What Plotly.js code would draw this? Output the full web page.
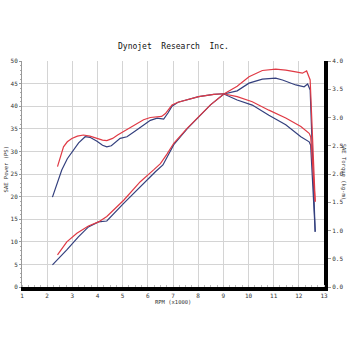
<!DOCTYPE html>
<html>
<head>
<meta charset="utf-8">
<script src="https://cdn.plot.ly/plotly-3.0.1.min.js"></script>
<style>html,body{margin:0;padding:0;background:#fff;}#chart{width:350px;height:350px;}</style>
</head>
<body>
<div id="chart"></div>
<script>
// RPM (x1000) and values
const redTorqueRpm = [2.41,2.55,2.65,2.8,2.98,3.2,3.44,3.7,3.98,4.2,4.37,4.6,4.8,5.04,5.4,5.83,6.1,6.37,6.55,6.7,6.96,7.2,7.43,8.02,8.62,9.0,9.55,10.15,10.81,11.48,12.08,12.27,12.41,12.47,12.65];
const redTorque    = [2.13,2.35,2.48,2.57,2.63,2.67,2.69,2.67,2.63,2.60,2.59,2.63,2.69,2.75,2.84,2.96,3.00,3.01,3.02,3.07,3.22,3.27,3.30,3.37,3.41,3.42,3.37,3.28,3.13,2.99,2.84,2.78,2.72,2.66,1.51];

const blueTorqueRpm = [2.21,2.4,2.58,2.8,3.04,3.25,3.51,3.7,3.98,4.2,4.37,4.55,4.9,5.17,5.5,5.83,6.1,6.37,6.5,6.63,6.8,6.96,7.2,7.43,8.02,8.62,9.0,9.55,10.15,10.81,11.48,12.08,12.27,12.41,12.47,12.65];
const blueTorque    = [1.59,1.85,2.07,2.27,2.42,2.55,2.66,2.65,2.58,2.51,2.48,2.50,2.63,2.66,2.76,2.87,2.95,2.99,2.98,2.97,3.08,3.20,3.27,3.30,3.37,3.41,3.42,3.31,3.22,3.04,2.87,2.66,2.60,2.57,2.51,0.98];

const redPowerRpm = [2.41,2.78,3.18,3.64,4.04,4.37,5.04,5.7,6.23,6.5,6.76,7.03,7.56,8.02,8.49,9.02,9.55,10.02,10.55,11.08,11.48,11.88,12.14,12.31,12.45,12.65];
const redPower    = [7.1,10.0,11.9,13.5,14.4,15.6,19.2,23.3,25.9,27.3,29.4,31.8,35.1,37.7,40.3,42.7,44.4,46.5,47.9,48.2,48.0,47.6,47.3,47.8,45.8,18.9];

const bluePowerRpm = [2.21,2.78,3.24,3.64,4.04,4.37,5.04,5.7,6.3,6.6,7.03,7.56,8.02,8.49,9.02,9.55,10.02,10.55,11.08,11.35,11.88,12.21,12.35,12.45,12.65];
const bluePower    = [4.9,8.2,11.1,13.3,14.4,14.6,18.5,22.2,25.5,27.0,31.5,35.0,37.7,40.3,42.7,43.4,45.1,46.0,46.2,45.8,44.7,44.3,44.9,43.6,12.2];

const xTicks = [1,2,3,4,5,6,7,8,9,10,11,12,13];
const powerTicks = [0,5,10,15,20,25,30,35,40,45,50];
const torqueTicks = [0,0.5,1,1.5,2,2.5,3,3.5,4];

const RED = '#e03a45', BLUE = '#34407e';
const tickFont = {family:'DejaVu Sans Mono, monospace', size:6, color:'#333'};

const traces = [
  {x: bluePowerRpm, y: bluePower, mode:'lines', line:{color:BLUE, width:1.2}, yaxis:'y'},
  {x: redPowerRpm, y: redPower, mode:'lines', line:{color:RED, width:1.2}, yaxis:'y'},
  {x: blueTorqueRpm, y: blueTorque, mode:'lines', line:{color:BLUE, width:1.2}, yaxis:'y2'},
  {x: redTorqueRpm, y: redTorque, mode:'lines', line:{color:RED, width:1.2}, yaxis:'y2'}
];

const layout = {
  width:350, height:350,
  margin:{l:22, r:26, t:61, b:63},
  paper_bgcolor:'#fff', plot_bgcolor:'#fff',
  showlegend:false,
  xaxis:{range:[1,13], tickvals:xTicks, ticktext:xTicks.map(String), tickfont:tickFont,
         showgrid:true, gridcolor:'#d4d4d4', gridwidth:1, zeroline:false,
         showline:true, linecolor:'#000', linewidth:4, ticks:'', ticklen:0, tickangle:0,
         minor:{dtick:0.25, ticks:'inside', ticklen:2, tickcolor:'#bbb', showgrid:false}},
  yaxis:{range:[0,50], tickvals:powerTicks, ticktext:powerTicks.map(String), tickfont:tickFont,
         showgrid:true, gridcolor:'#d4d4d4', gridwidth:1, zeroline:false,
         showline:true, linecolor:'#999', linewidth:1, ticks:'outside', ticklen:2, tickcolor:'#999',
         minor:{dtick:1, ticks:'outside', ticklen:1.5, tickcolor:'#aaa', showgrid:false}},
  yaxis2:{range:[0,4], overlaying:'y', side:'right', tickvals:torqueTicks, ticktext:torqueTicks.map(v=>v.toFixed(1)),
          tickfont:tickFont, showgrid:false, zeroline:false,
          showline:true, linecolor:'#000', linewidth:4, ticks:'outside', ticklen:3, tickcolor:'#999'},
  annotations:[
    {text:'Dynojet  Research  Inc.', xref:'paper', yref:'paper', x:0.5, y:1.062, showarrow:false,
     xanchor:'center', yanchor:'middle', font:{family:'DejaVu Sans Mono, monospace', size:8, color:'#111'}},
    {text:'SAE Power (PS)', xref:'paper', yref:'paper', x:-0.05, y:0.52, showarrow:false, textangle:-90,
     xanchor:'center', yanchor:'middle', font:{family:'DejaVu Sans Mono, monospace', size:5.5, color:'#333'}},
    {text:'SAE Torque (kg-m)', xref:'paper', yref:'paper', x:1.063, y:0.51, showarrow:false, textangle:90,
     xanchor:'center', yanchor:'middle', font:{family:'DejaVu Sans Mono, monospace', size:5.5, color:'#333'}},
    {text:'RPM (x1000)', xref:'paper', yref:'paper', x:0.5, y:-0.065, showarrow:false,
     xanchor:'center', yanchor:'middle', font:{family:'DejaVu Sans Mono, monospace', size:5.5, color:'#333'}}
  ]
};

Plotly.newPlot('chart', traces, layout, {staticPlot:true, displayModeBar:false});
</script>
</body>
</html>
